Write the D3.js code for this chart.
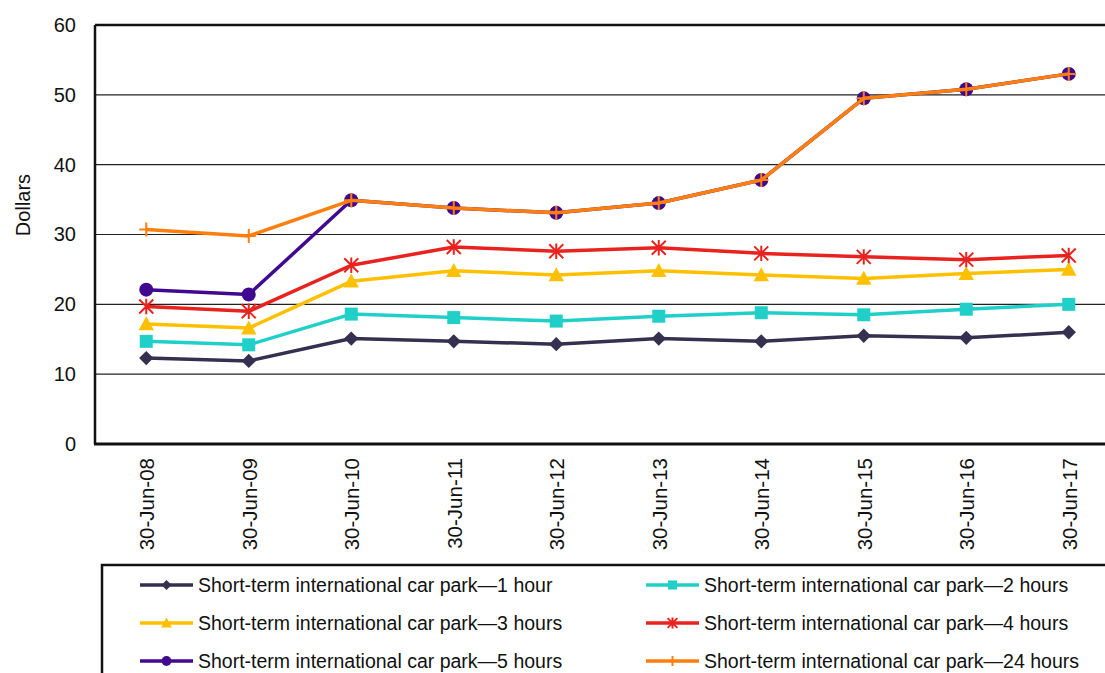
<!DOCTYPE html>
<html>
<head>
<meta charset="utf-8">
<script src="https://cdn.jsdelivr.net/npm/d3@7"></script>
<style>
  html, body { margin: 0; padding: 0; background: #fff; }
  svg { display: block; font-family: Arial, "Liberation Sans", sans-serif; }
</style>
</head>
<body>
<svg id="chart" width="1105" height="673"></svg>
<script>
// Parking fees at the short-term international car park, by duration
const dates = ["30-Jun-08", "30-Jun-09", "30-Jun-10", "30-Jun-11", "30-Jun-12",
               "30-Jun-13", "30-Jun-14", "30-Jun-15", "30-Jun-16", "30-Jun-17"];
const hour1  = [12.3, 11.9, 15.1, 14.7, 14.3, 15.1, 14.7, 15.5, 15.2, 16.0];
const hours2 = [14.7, 14.2, 18.6, 18.1, 17.6, 18.3, 18.8, 18.5, 19.3, 20.0];
const hours3 = [17.2, 16.6, 23.3, 24.8, 24.2, 24.8, 24.2, 23.7, 24.4, 25.0];
const hours4 = [19.7, 19.0, 25.6, 28.2, 27.6, 28.1, 27.3, 26.8, 26.4, 27.0];
const hours5 = [22.1, 21.4, 34.9, 33.8, 33.1, 34.5, 37.8, 49.5, 50.8, 53.0];
const hours24 = [30.7, 29.8, 34.9, 33.8, 33.1, 34.5, 37.8, 49.5, 50.8, 53.0];
const yTicks = [0, 10, 20, 30, 40, 50, 60];
const seriesNames = [
  "Short-term international car park\u20141 hour",
  "Short-term international car park\u20142 hours",
  "Short-term international car park\u20143 hours",
  "Short-term international car park\u20144 hours",
  "Short-term international car park\u20145 hours",
  "Short-term international car park\u201424 hours"
];

const series = [
  { name: seriesNames[0], values: hour1,   color: "#35304F", marker: "diamond" },
  { name: seriesNames[1], values: hours2,  color: "#1FCFC8", marker: "square" },
  { name: seriesNames[2], values: hours3,  color: "#FFC000", marker: "triangle" },
  { name: seriesNames[3], values: hours4,  color: "#E8231F", marker: "asterisk" },
  { name: seriesNames[4], values: hours5,  color: "#40098F", marker: "circle" },
  { name: seriesNames[5], values: hours24, color: "#FF7F0E", marker: "plus" }
];

const FONT = "Arial, 'Liberation Sans', sans-serif";
const svg = d3.select("#chart");
const plot = { left: 95, top: 25, right: 1120, bottom: 444 };

const x = d3.scalePoint().domain(dates).range([plot.left, plot.right]).padding(0.5);
const y = d3.scaleLinear().domain([0, 60]).range([plot.bottom, plot.top]);

// Gridlines
svg.append("g")
  .selectAll("line")
  .data(yTicks.filter(t => t > 0 && t < 60))
  .join("line")
  .attr("x1", plot.left).attr("x2", plot.right)
  .attr("y1", d => y(d)).attr("y2", d => y(d))
  .attr("stroke", "#222").attr("stroke-width", 1.2);

// Plot frame: top, left and bottom edges
svg.append("line").attr("x1", plot.left).attr("x2", plot.right)
  .attr("y1", plot.top).attr("y2", plot.top).attr("stroke", "#111").attr("stroke-width", 2.5);
svg.append("line").attr("x1", plot.left).attr("x2", plot.left)
  .attr("y1", plot.top).attr("y2", plot.bottom).attr("stroke", "#111").attr("stroke-width", 2.5);
svg.append("line").attr("x1", plot.left - 1).attr("x2", plot.right)
  .attr("y1", plot.bottom).attr("y2", plot.bottom).attr("stroke", "#111").attr("stroke-width", 3);

// Y axis labels
const yAxis = d3.axisLeft(y).tickValues(yTicks).tickSize(0).tickPadding(19);
const yg = svg.append("g").attr("transform", `translate(${plot.left},0)`).call(yAxis);
yg.select(".domain").remove();
yg.selectAll("text").attr("font-size", 20).attr("fill", "#111").attr("font-family", FONT);

// X axis labels, rotated
const xAxis = d3.axisBottom(x).tickSize(0).tickPadding(0);
const xg = svg.append("g").attr("transform", `translate(0,${plot.bottom})`).call(xAxis);
xg.select(".domain").remove();
xg.selectAll("text")
  .attr("font-size", 20.5).attr("fill", "#111").attr("font-family", FONT)
  .attr("text-anchor", "end")
  .attr("dy", null).attr("y", 0)
  .attr("transform", "translate(7.5,14) rotate(-90)");

// Y axis title
svg.append("text")
  .attr("transform", "translate(30,205) rotate(-90)")
  .attr("text-anchor", "middle")
  .attr("font-size", 20).attr("fill", "#111").attr("font-family", FONT)
  .text("Dollars");

// Marker shapes
function drawMarker(g, type, color, size) {
  const s = size;
  if (type === "diamond") {
    g.append("path").attr("d", `M0,${-s*0.55}L${s*0.55},0L0,${s*0.55}L${-s*0.55},0Z`).attr("fill", color);
  } else if (type === "square") {
    g.append("rect").attr("x", -s/2).attr("y", -s/2).attr("width", s).attr("height", s).attr("fill", color);
  } else if (type === "triangle") {
    g.append("path").attr("d", `M0,${-s*0.55}L${s*0.55},${s*0.45}L${-s*0.55},${s*0.45}Z`).attr("fill", color);
  } else if (type === "asterisk") {
    const r = s * 0.5;
    g.append("path")
      .attr("d", `M${-r},${-r}L${r},${r}M${-r},${r}L${r},${-r}M0,${-r*1.1}L0,${r*1.1}`)
      .attr("stroke", color).attr("stroke-width", 2).attr("fill", "none");
  } else if (type === "circle") {
    g.append("circle").attr("r", s/2).attr("fill", color);
  } else if (type === "plus") {
    const r = s * 0.5;
    g.append("path").attr("d", `M${-r},0L${r},0M0,${-r}L0,${r}`)
      .attr("stroke", color).attr("stroke-width", 2).attr("fill", "none");
  }
}

const markerSize = { diamond: 13, square: 13, triangle: 14, asterisk: 14, circle: 14, plus: 14 };

const line = d3.line().x((d, i) => x(dates[i])).y(d => y(d));

series.forEach(s => {
  const g = svg.append("g");
  g.append("path").datum(s.values).attr("d", line)
    .attr("fill", "none").attr("stroke", s.color).attr("stroke-width", 3.5)
    .attr("stroke-linejoin", "round");
  s.values.forEach((v, i) => {
    const mg = g.append("g").attr("transform", `translate(${x(dates[i])},${y(v)})`);
    drawMarker(mg, s.marker, s.color, markerSize[s.marker]);
  });
});

// Legend
const legend = svg.append("g");
legend.append("path")
  .attr("d", "M102,700L102,565L1120,565")
  .attr("fill", "none").attr("stroke", "#111").attr("stroke-width", 2.5);

const legendRows = [585, 623, 661];
const legendCols = [140, 646];
series.forEach((s, i) => {
  const col = i % 2, row = Math.floor(i / 2);
  const lx = legendCols[col], ly = legendRows[row];
  const g = legend.append("g");
  g.append("line").attr("x1", lx).attr("x2", lx + 53).attr("y1", ly).attr("y2", ly)
    .attr("stroke", s.color).attr("stroke-width", 3.5);
  const mg = g.append("g").attr("transform", `translate(${lx + 26.5},${ly})`);
  drawMarker(mg, s.marker, s.color, markerSize[s.marker] * 0.7);
  g.append("text").attr("x", lx + 58).attr("y", ly).attr("dy", "0.35em")
    .attr("font-size", 19.5).attr("fill", "#111").attr("font-family", FONT).text(s.name);
});
</script>
</body>
</html>
